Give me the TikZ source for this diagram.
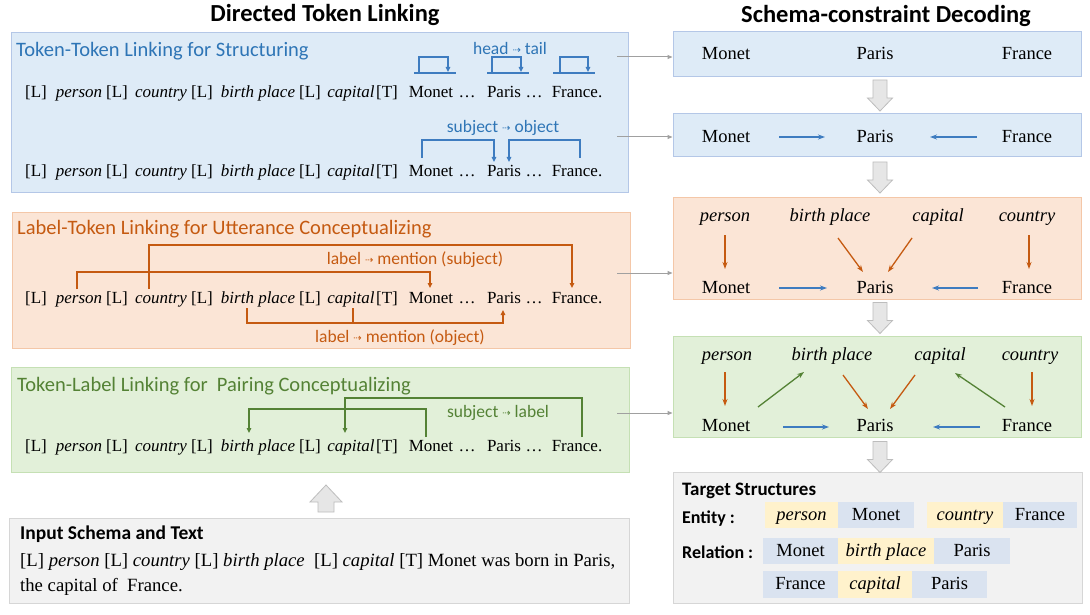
\documentclass[tikz,border=0pt]{standalone}
\usepackage{fontspec}
\setmainfont{Liberation Serif}
\setsansfont{Carlito}
\newfontfamily\djv{DejaVu Sans}
\usetikzlibrary{arrows.meta,calc}
\newcommand\fsz[1]{\fontsize{#1}{#1}\selectfont}
\newcommand\dar{{\djv\fsz{10}\raisebox{1pt}{⇢}}}
\definecolor{bfill}{HTML}{DEEBF7}
\definecolor{bdraw}{HTML}{B4C7E7}
\definecolor{btext}{HTML}{2E75B6}
\definecolor{bline}{HTML}{3E7CC0}
\definecolor{ofill}{HTML}{FBE5D6}
\definecolor{odraw}{HTML}{F4C7A8}
\definecolor{otext}{HTML}{C55A11}
\definecolor{gfill}{HTML}{E2F0D9}
\definecolor{gdraw}{HTML}{C5E0B4}
\definecolor{gtext}{HTML}{548235}
\definecolor{grfill}{HTML}{F2F2F2}
\definecolor{grdraw}{HTML}{D6D6D6}
\definecolor{chipy}{HTML}{FFF2CC}
\definecolor{chipb}{HTML}{DAE3F0}
\definecolor{arrfill}{HTML}{E6E6E6}
\definecolor{arrdraw}{HTML}{BDBDBD}
\definecolor{conncol}{HTML}{A0A0A0}
\newcommand\tokrow[2]{%
  \foreach \tokx/\toktext/\tokname in {36/{[L]}/l1,79/{\textit{person}}/per,117/{[L]}/l2,161/{\textit{country}}/cou,202/{[L]}/l3,258/{\textit{birth place}}/bir,310/{[L]}/l4,351/{\textit{capital}}/cap,387/{[T]}/t,431/{Monet}/mon,467/{…}/d1,504/{Paris}/par,534/{…}/d2,577/{France.}/fra}
  {\node[tok] (#1\tokname) at (\tokx,#2) {\toktext};}}
\tikzset{
  tok/.style={anchor=base, inner sep=0pt, font=\fsz{17}},
  rtok/.style={anchor=base, inner sep=0pt, font=\fsz{18.5}},
  boxb/.style={draw=bdraw, fill=bfill, line width=1pt, inner sep=0pt},
  boxo/.style={draw=odraw, fill=ofill, line width=1pt, inner sep=0pt},
  boxg/.style={draw=gdraw, fill=gfill, line width=1pt, inner sep=0pt},
  boxgr/.style={draw=grdraw, fill=grfill, line width=1pt, inner sep=0pt},
  ttl/.style={anchor=base west, inner sep=0pt, font=\sffamily\fsz{20.5}},
  head/.style={inner sep=0pt, font=\sffamily\bfseries\fsz{24.5}},
  lbl/.style={inner sep=0pt, font=\sffamily\fsz{17.5}},
  bl/.style={draw=bline, line width=1.4pt},
  ol/.style={draw=otext, line width=1.4pt},
  gl/.style={draw=gtext, line width=1.4pt},
  tipb/.style={-{Triangle[length=5pt,width=4.5pt]}},
  thin arr/.style={line width=1.3pt, -{Stealth[length=7pt,width=5pt]}},
  conn/.style={draw=conncol, line width=1pt, -{Triangle[length=5pt,width=4pt]}},
  chipY/.style={fill=chipy, inner sep=0pt, text height=13pt, text depth=3pt, font=\fsz{18.5}},
  chipB/.style={fill=chipb, inner sep=0pt, text height=13pt, text depth=3pt, font=\fsz{18.5}},
  downarr/.pic={\draw[draw=arrdraw, fill=arrfill, line width=0.8pt] (-7,-15.5) -- (7,-15.5) -- (7,2.5) -- (12.5,2.5) -- (0,15.5) -- (-12.5,2.5) -- (-7,2.5) -- cycle;},
  uparr/.pic={\draw[draw=arrdraw, fill=arrfill, line width=0.8pt] (-8,13.5) -- (-8,3.5) -- (-16,3.5) -- (0,-13.5) -- (16,3.5) -- (8,3.5) -- (8,13.5) -- cycle;}
}
\begin{document}
\begin{tikzpicture}[x=1pt,y=-1pt]
\useasboundingbox[fill=white] (0,0) rectangle (1090,615);

% headings
\node[head] (h1) at (325,15) {Directed Token Linking};
\node[head] (h2) at (886,16) {Schema-constraint Decoding};

% ---------- left boxes ----------
\node[boxb, minimum width=617, minimum height=159] (L1) at (319.5,112.5) {};
\node[boxo, minimum width=618, minimum height=136] (L2) at (321,280) {};
\node[boxg, minimum width=618, minimum height=105] (L3) at (320,419.5) {};
\node[boxgr, minimum width=620, minimum height=85] (L4) at (319,560.5) {};

\node[ttl, text=btext] (t1) at (16,57) {Token-Token Linking for Structuring};
\node[ttl, text=otext] (t2) at (17,234) {Label-Token Linking for Utterance Conceptualizing};
\node[ttl, text=gtext] (t3) at (17,391) {Token-Label Linking for\ \ Pairing Conceptualizing};

\tokrow{a}{98}
\tokrow{b}{176}
\tokrow{c}{303}
\tokrow{d}{451}

% blue row 1 brackets
\node[lbl, text=btext] (lab1) at (510,48) {head \dar{} tail};
\foreach \w/\l/\r/\ul/\ur in {mon/-12/17/-17/25, par/-12/17/-17/25, fra/-17/11/-24/18}{
  \draw[bl] ($(a\w.base)+(\ul,-25)$) -- ($(a\w.base)+(\ur,-25)$);
  \draw[bl,tipb] ($(a\w.base)+(\l,-25)$) -- ($(a\w.base)+(\l,-41)$) -- ($(a\w.base)+(\r,-41)$) -- ($(a\w.base)+(\r,-26)$);
}
% blue row 2
\node[lbl, text=btext] (lab2) at (503,128) {subject \dar{} object};
\draw[bl,tipb] ($(bmon.base)+(-9,-18)$) -- ($(bmon.base)+(-9,-36)$) -| ($(bpar.base)+(-10,-14)$);
\draw[bl,tipb] ($(bfra.base)+(3,-18)$) -- ($(bfra.base)+(3,-36)$) -| ($(bpar.base)+(5,-14)$);

% orange row
\node[lbl, text=otext] (lab3) at (415,260) {label \dar{} mention (subject)};
\node[lbl, text=otext] (lab4) at (400,338) {label \dar{} mention (object)};
\draw[ol,tipb] ($(ccou.base)+(-12,-14)$) -- ($(ccou.base)+(-12,-58)$) -| ($(cfra.base)+(-5,-15)$);
\draw[ol,tipb] ($(cper.base)+(-2,-14)$) -- ($(cper.base)+(-2,-31)$) -| ($(cmon.base)+(-1,-15)$);
\draw[ol,tipb] ($(cbir.base)+(-11,5)$) -- ($(cbir.base)+(-11,20)$) -| ($(cpar.base)+(-1,7)$);
\draw[ol] ($(ccap.base)+(2,5)$) -- ($(ccap.base)+(2,20)$);

% green row
\node[lbl, text=gtext] (lab5) at (498,413) {subject \dar{} label};
\draw[gl,tipb] ($(dmon.base)+(-5,-14)$) -- ($(dmon.base)+(-5,-42)$) -| ($(dbir.base)+(-9,-18)$);
\draw[gl,tipb] ($(dfra.base)+(5,-14)$) -- ($(dfra.base)+(5,-53)$) -| ($(dcap.base)+(-6,-18)$);

% input box
\pic at (326,498.5) {uparr};
\node[anchor=base west, inner sep=0pt, font=\sffamily\bfseries\fsz{19.5}] (inh) at (20,539) {Input Schema and Text};
\node[anchor=base west, inner sep=0pt, font=\fsz{18.7}] (in1) at (20,566) {[L] \textit{person} [L] \textit{country} [L] \textit{birth place}\ \ [L] \textit{capital} [T] Monet was born in Paris,};
\node[anchor=base west, inner sep=0pt, font=\fsz{18.7}] (in2) at (20,591) {the capital of\ \ France.};

% ---------- right column ----------
\node[boxb, minimum width=408, minimum height=45] (r1) at (877,54.5) {};
\node[boxb, minimum width=408, minimum height=43] (r2) at (877,135.5) {};
\node[boxo, minimum width=408, minimum height=102] (r3) at (877,248) {};
\node[boxg, minimum width=408, minimum height=101] (r4) at (877,386.5) {};
\node[boxgr, minimum width=409, minimum height=131] (r5) at (877.5,537.5) {};

\pic at (880,95.5) {downarr};
\pic at (880,177.5) {downarr};
\pic at (880,318) {downarr};
\pic at (880,457) {downarr};

% connectors from left boxes
\coordinate (c1) at (617,57);
\coordinate (c2) at (617,137);
\coordinate (c3) at (617,273);
\coordinate (c4) at (617,413);
\draw[conn] (c1) -- (c1 -| r1.west);
\draw[conn] (c2) -- (c2 -| r2.west);
\draw[conn] (c3) -- (c3 -| r3.west);
\draw[conn] (c4) -- (c4 -| r4.west);

% r1
\node[rtok] (r1m) at (726,60) {Monet};
\node[rtok] (r1p) at (875,60) {Paris};
\node[rtok] (r1f) at (1027,60) {France};
% r2
\node[rtok] (r2m) at (726,143) {Monet};
\node[rtok] (r2p) at (875,143) {Paris};
\node[rtok] (r2f) at (1027,143) {France};
\draw[bline, thin arr] ($(r2m.base)+(53,-6)$) -- ($(r2p.base)+(-50,-6)$);
\draw[bline, thin arr] ($(r2f.base)+(-50,-6)$) -- ($(r2p.base)+(55,-6)$);
% r3
\node[rtok] (r3per) at (725,222) {\textit{person}};
\node[rtok] (r3bir) at (830,222) {\textit{birth place}};
\node[rtok] (r3cap) at (938,222) {\textit{capital}};
\node[rtok] (r3cou) at (1027,222) {\textit{country}};
\node[rtok] (r3m) at (726,293) {Monet};
\node[rtok] (r3p) at (875,293) {Paris};
\node[rtok] (r3f) at (1027,293) {France};
\draw[otext, thin arr] ($(r3per.base)+(0,13)$) -- ($(r3m.base)+(-1,-24)$);
\draw[otext, thin arr] ($(r3bir.base)+(8,16)$) -- ($(r3p.base)+(-12,-21)$);
\draw[otext, thin arr] ($(r3cap.base)+(-26,16)$) -- ($(r3p.base)+(13,-21)$);
\draw[otext, thin arr] ($(r3cou.base)+(2,13)$) -- ($(r3f.base)+(2,-24)$);
\draw[bline, thin arr] ($(r3m.base)+(53,-5)$) -- ($(r3p.base)+(-48,-5)$);
\draw[bline, thin arr] ($(r3f.base)+(-49,-5)$) -- ($(r3p.base)+(57,-5)$);
% r4
\node[rtok] (r4per) at (727,360) {\textit{person}};
\node[rtok] (r4bir) at (832,360) {\textit{birth place}};
\node[rtok] (r4cap) at (940,360) {\textit{capital}};
\node[rtok] (r4cou) at (1030,360) {\textit{country}};
\node[rtok] (r4m) at (726,431) {Monet};
\node[rtok] (r4p) at (875,431) {Paris};
\node[rtok] (r4f) at (1027,431) {France};
\draw[otext, thin arr] ($(r4per.base)+(-2,12)$) -- ($(r4m.base)+(-1,-25)$);
\draw[gtext, thin arr] ($(r4m.base)+(32,-24)$) -- ($(r4bir.base)+(-28,12)$);
\draw[otext, thin arr] ($(r4bir.base)+(11,15)$) -- ($(r4p.base)+(-7,-22)$);
\draw[otext, thin arr] ($(r4cap.base)+(-25,15)$) -- ($(r4p.base)+(15,-22)$);
\draw[gtext, thin arr] ($(r4f.base)+(-22,-24)$) -- ($(r4cap.base)+(15,13)$);
\draw[otext, thin arr] ($(r4cou.base)+(2,12)$) -- ($(r4f.base)+(5,-25)$);
\draw[bline, thin arr] ($(r4m.base)+(57,-4)$) -- ($(r4p.base)+(-46,-4)$);
\draw[bline, thin arr] ($(r4f.base)+(-47,-4)$) -- ($(r4p.base)+(58,-4)$);

% r5 target structures
\node[anchor=base west, inner sep=0pt, font=\sffamily\bfseries\fsz{19}] (ts) at (682,495) {Target Structures};
\node[anchor=base west, inner sep=0pt, font=\sffamily\bfseries\fsz{18}] (ent) at (682,523) {Entity :};
\node[anchor=base west, inner sep=0pt, font=\sffamily\bfseries\fsz{18}] (rel) at (682,558) {Relation :};
\node[chipY, minimum width=73, minimum height=26] (e1) at (801.5,515) {\textit{person}};
\node[chipB, minimum width=76, minimum height=26] (e2) at (876,515) {Monet};
\node[chipY, minimum width=76, minimum height=26] (e3) at (965,515) {\textit{country}};
\node[chipB, minimum width=74, minimum height=26] (e4) at (1040,515) {France};
\node[chipB, minimum width=75, minimum height=26] (q1) at (800.5,551) {Monet};
\node[chipY, minimum width=96, minimum height=26] (q2) at (886,551) {\textit{birth place}};
\node[chipB, minimum width=76, minimum height=26] (q3) at (972,551) {Paris};
\node[chipB, minimum width=75, minimum height=27] (s1) at (800.5,584.5) {France};
\node[chipY, minimum width=74, minimum height=27] (s2) at (875,584.5) {\textit{capital}};
\node[chipB, minimum width=75, minimum height=27] (s3) at (949.5,584.5) {Paris};
\end{tikzpicture}
\end{document}
